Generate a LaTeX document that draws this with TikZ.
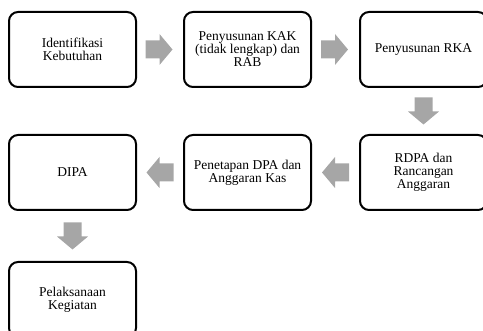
\documentclass[tikz,border=0pt]{standalone}
\usepackage{fontspec}
\setmainfont{Liberation Serif}
\usetikzlibrary{calc}
\definecolor{arrgray}{RGB}{166,166,166}
\tikzset{
  stepbox/.style={draw=black, line width=2pt, rounded corners=9pt, fill=white,
    minimum width=127pt, minimum height=75pt, align=center, inner sep=2pt,
    font=\fontsize{13.5}{13}\selectfont},
  blockarrow/.pic={
    \fill[arrgray] (-13.5,-9) -- (0.5,-9) -- (0.5,-15.5) -- (13.5,0) -- (0.5,15.5) -- (0.5,9) -- (-13.5,9) -- cycle;
  }
}
\begin{document}
\begin{tikzpicture}[x=1pt,y=-1pt]
\clip (0,0) rectangle (483,331);
\useasboundingbox (0,0) rectangle (483,331);
\node[stepbox] (b1) at (72.5,49.5) {Identifikasi\\Kebutuhan};
\node[stepbox] (b2) at (247.5,49.5) {Penyusunan KAK\\(tidak lengkap) dan\\RAB};
\node[stepbox] (b3) at (423.5,49.5) {Penyusunan RKA};
\node[stepbox] (b4) at (423.5,172.5) {RDPA dan\\Rancangan\\Anggaran};
\node[stepbox] (b5) at (247.5,172.5) {Penetapan DPA dan\\Anggaran Kas};
\node[stepbox] (b6) at (72.5,172.5) {DIPA};
\node[stepbox] (b7) at (72.5,299.5) {Pelaksanaan\\Kegiatan};
\pic at ($(b1.east)!0.5!(b2.west)+(-1,0)$) {blockarrow};
\pic at ($(b2.east)!0.5!(b3.west)+(-1,0)$) {blockarrow};
\pic[rotate=-90] at ($(b3.south)!0.5!(b4.north)$) {blockarrow};
\pic[rotate=180] at ($(b4.west)!0.5!(b5.east)$) {blockarrow};
\pic[rotate=180] at ($(b5.west)!0.5!(b6.east)$) {blockarrow};
\pic[rotate=-90] at ($(b6.south)!0.5!(b7.north)$) {blockarrow};
\end{tikzpicture}
\end{document}
